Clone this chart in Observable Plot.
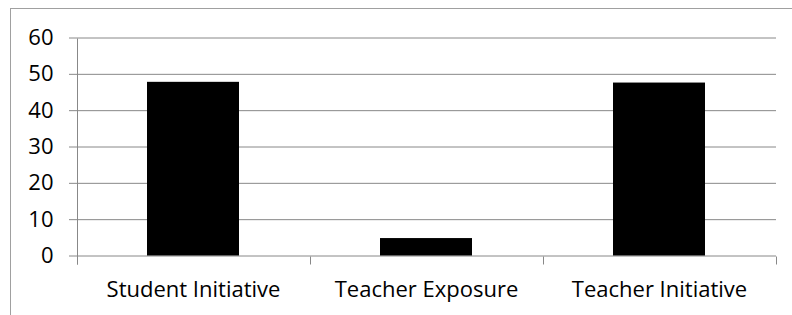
<!DOCTYPE html>
<html>
<head>
<meta charset="utf-8">
<script src="https://cdn.jsdelivr.net/npm/d3@7"></script>
<script src="https://cdn.jsdelivr.net/npm/@observablehq/plot@0.6"></script>
<style>
  html, body { margin: 0; padding: 0; background: white; }
  #chart { width: 792px; height: 315px; overflow: hidden; }
</style>
</head>
<body>
<div id="chart"></div>
<script>
const categories = ["Student Initiative", "Teacher Exposure", "Teacher Initiative"];
const values = [47.8, 4.8, 47.6];
const yTicks = [0, 10, 20, 30, 40, 50, 60];

const data = categories.map((c, i) => ({category: c, value: values[i]}));
const gray = "#888888";

function decorations(index, scales, values, dimensions) {
  const x = scales.x, y = scales.y;
  const step = typeof x.step === "function" ? x.step() : (dimensions.width - dimensions.marginLeft - dimensions.marginRight) / categories.length;
  const bw = typeof x.bandwidth === "function" ? x.bandwidth() : 0;
  const g = d3.create("svg:g");
  const y0 = Math.round(y(0)) + 0.5;
  const bounds = categories.map(c => x(c) - (step - bw) / 2);
  bounds.push(bounds[bounds.length - 1] + step);
  for (const b of bounds) {
    const bx = Math.round(b) + 0.5;
    g.append("line").attr("x1", bx).attr("x2", bx).attr("y1", y0).attr("y2", y0 + 8)
      .attr("stroke", gray).attr("stroke-width", 1);
  }
  // y axis line
  const ax = Math.round(bounds[0]) + 0.5;
  g.append("line").attr("x1", ax).attr("x2", ax)
    .attr("y1", Math.round(y(yTicks[yTicks.length - 1])) + 0.5).attr("y2", y0 + 8)
    .attr("stroke", gray).attr("stroke-width", 1);
  // outer chart frame (cropped at right/bottom)
  g.append("rect").attr("x", 10.5).attr("y", 8.5)
    .attr("width", dimensions.width + 20).attr("height", dimensions.height + 20)
    .attr("fill", "none").attr("stroke", "#a0a0a0").attr("stroke-width", 1);
  return g.node();
}

const plot = Plot.plot({
  width: 792,
  height: 315,
  marginLeft: 77,
  marginRight: 16,
  marginTop: 37.5,
  marginBottom: 59.5,
  style: {fontFamily: "'Open Sans', sans-serif", fontSize: "22px", background: "white", color: "black", overflow: "visible"},
  x: {domain: categories, paddingInner: 0.605, paddingOuter: 0.3025, axis: null, label: null},
  y: {domain: [0, 60], axis: null, label: null},
  marks: [
    Plot.gridY(yTicks, {stroke: gray, strokeOpacity: 1, strokeWidth: 1}),
    Plot.axisY(yTicks, {tickSize: 8, tickPadding: 16, stroke: gray, strokeOpacity: 1, fill: "black", tickFormat: d => String(d), fontSize: 22, label: null}),
    Plot.barY(data, {x: "category", y: "value", fill: "black"}),
    Plot.axisX(categories, {tickSize: 0, tickPadding: 25, fill: "black", fontSize: 22, label: null}),
    decorations
  ]
});

document.getElementById("chart").appendChild(plot);
</script>
</body>
</html>
